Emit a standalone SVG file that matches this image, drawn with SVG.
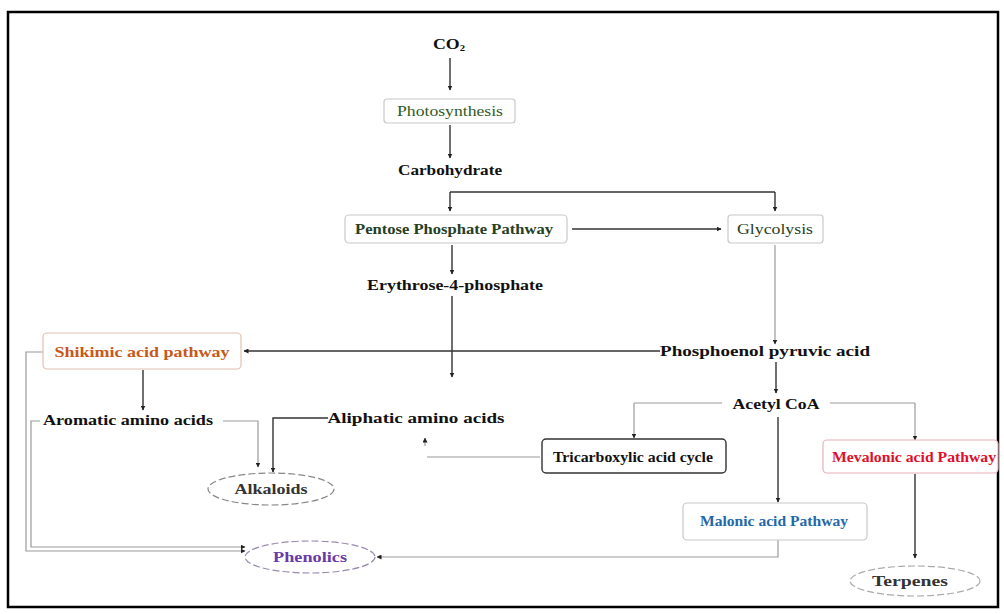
<svg xmlns="http://www.w3.org/2000/svg" width="1004" height="614" viewBox="0 0 1004 614">
<defs>
<marker id="ah" viewBox="0 0 10 10" refX="9" refY="5" markerWidth="5" markerHeight="5" orient="auto" markerUnits="userSpaceOnUse"><path d="M0,0 L10,5 L0,10 z" fill="#222"/></marker>
</defs>
<style>
text{font-family:"Liberation Serif","Times New Roman",serif;font-size:15px;text-anchor:middle;dominant-baseline:central;fill:#111}
.b{font-weight:bold}
.box{fill:#fff;stroke:#c8c8c8;stroke-width:1.2}
.ell{fill:#fff;stroke:#888;stroke-width:1.2;stroke-dasharray:7 3}
.dk{fill:none;stroke:#333;stroke-width:1.4}
.lt{fill:none;stroke:#9a9a9a;stroke-width:1.2}
.arr{marker-end:url(#ah)}
</style>
<rect x="8" y="12" width="990" height="595" fill="#fff" stroke="#000" stroke-width="2.5"/>
<g id="connectors">
<path class="dk arr" d="M450,58 V90"/>
<path class="dk arr" d="M450,125 V158"/>
<path class="dk" d="M450,192 H775"/>
<path class="dk arr" d="M450,192 V211"/>
<path class="dk arr" d="M775,192 V211"/>
<path class="dk arr" d="M572,229 H721"/>
<path class="dk arr" d="M452,245 V274"/>
<path class="dk arr" d="M452,296 V377"/>
<path class="lt arr" d="M775,245 V344"/>
<path class="dk arr" d="M660,351 H244"/>
<path class="dk arr" d="M143,370 V410"/>
<path class="dk arr" d="M776,362 V393"/>
<path class="lt" d="M722,403 H634"/>
<path class="lt arr" d="M634,403 V438"/>
<path class="lt" d="M830,403 H915"/>
<path class="lt arr" d="M915,403 V440"/>
<path class="dk arr" d="M778,417 V502"/>
<path class="lt arr" d="M223,421 H258 V467"/>
<path class="dk arr" d="M328,418 H273 V472"/>
<path class="lt" d="M540,457 H427"/>
<path class="lt arr" d="M425,446 V438"/>
<path class="lt arr" d="M43,352 H26 V551 H245"/>
<path class="lt arr" d="M40,421 H31 V547 H245"/>
<path class="dk arr" d="M915,474 V558"/>
<path class="lt arr" d="M778,540 V557 H377"/>
</g>
<g id="co2"><text x="449" y="44" class="b" textLength="32" lengthAdjust="spacingAndGlyphs">CO<tspan font-size="9" dy="4">2</tspan></text></g>
<g id="photosynthesis"><rect class="box" x="384" y="99" width="131" height="24" rx="3"/><text x="450" y="111" fill="#2f5a1f" style="fill:#2f5a1f" textLength="106" lengthAdjust="spacingAndGlyphs">Photosynthesis</text></g>
<g id="carbohydrate"><text x="450" y="170" class="b" textLength="104" lengthAdjust="spacingAndGlyphs">Carbohydrate</text></g>
<g id="ppp"><rect class="box" x="345" y="215" width="222" height="28" rx="4"/><text x="454" y="229" class="b" style="fill:#25401f" textLength="198" lengthAdjust="spacingAndGlyphs">Pentose Phosphate Pathway</text></g>
<g id="glycolysis"><rect class="box" x="728" y="215" width="95" height="28" rx="3"/><text x="775" y="229" style="fill:#25401f" textLength="76" lengthAdjust="spacingAndGlyphs">Glycolysis</text></g>
<g id="erythrose"><text x="455" y="285" class="b" textLength="176" lengthAdjust="spacingAndGlyphs">Erythrose-4-phosphate</text></g>
<g id="shikimic"><rect class="box" x="43" y="333" width="198" height="36" rx="4" style="stroke:#e0c0b0"/><text x="142" y="352" class="b" style="fill:#c8581a" textLength="175" lengthAdjust="spacingAndGlyphs">Shikimic acid pathway</text></g>
<g id="pep"><text x="765" y="351" class="b" textLength="210" lengthAdjust="spacingAndGlyphs">Phosphoenol pyruvic acid</text></g>
<g id="aromatic"><text x="128" y="420" class="b" textLength="170" lengthAdjust="spacingAndGlyphs">Aromatic amino acids</text></g>
<g id="aliphatic"><text x="416" y="418" class="b" textLength="177" lengthAdjust="spacingAndGlyphs">Aliphatic amino acids</text></g>
<g id="acetylcoa"><text x="776" y="404" class="b" textLength="87" lengthAdjust="spacingAndGlyphs">Acetyl CoA</text></g>
<g id="tca"><rect x="542" y="439" width="184" height="34" rx="4" fill="#fff" stroke="#333" stroke-width="1.4"/><text x="633" y="457" class="b" font-size="13" textLength="160" lengthAdjust="spacingAndGlyphs">Tricarboxylic acid cycle</text></g>
<g id="mevalonic"><rect class="box" x="823" y="440" width="175" height="33" rx="4" style="stroke:#e8b0b8"/><text x="914" y="457" class="b" font-size="13" style="fill:#e0102a" textLength="164" lengthAdjust="spacingAndGlyphs">Mevalonic acid Pathway</text></g>
<g id="malonic"><rect class="box" x="683" y="503" width="184" height="37" rx="4"/><text x="774" y="521" class="b" font-size="14" style="fill:#2468a8" textLength="148" lengthAdjust="spacingAndGlyphs">Malonic acid Pathway</text></g>
<g id="alkaloids"><ellipse class="ell" cx="271" cy="489" rx="63" ry="16"/><text x="271" y="489" class="b" font-size="14" style="fill:#333" textLength="73" lengthAdjust="spacingAndGlyphs">Alkaloids</text></g>
<g id="phenolics"><ellipse class="ell" cx="310" cy="557" rx="65" ry="16" style="stroke:#9a8ab0"/><text x="310" y="557" class="b" font-size="14" style="fill:#6a3aa8" textLength="74" lengthAdjust="spacingAndGlyphs">Phenolics</text></g>
<g id="terpenes"><ellipse class="ell" cx="915" cy="581" rx="65" ry="15" style="stroke:#aaa"/><text x="910" y="581" class="b" font-size="14" style="fill:#333" textLength="76" lengthAdjust="spacingAndGlyphs">Terpenes</text></g>
</svg>
